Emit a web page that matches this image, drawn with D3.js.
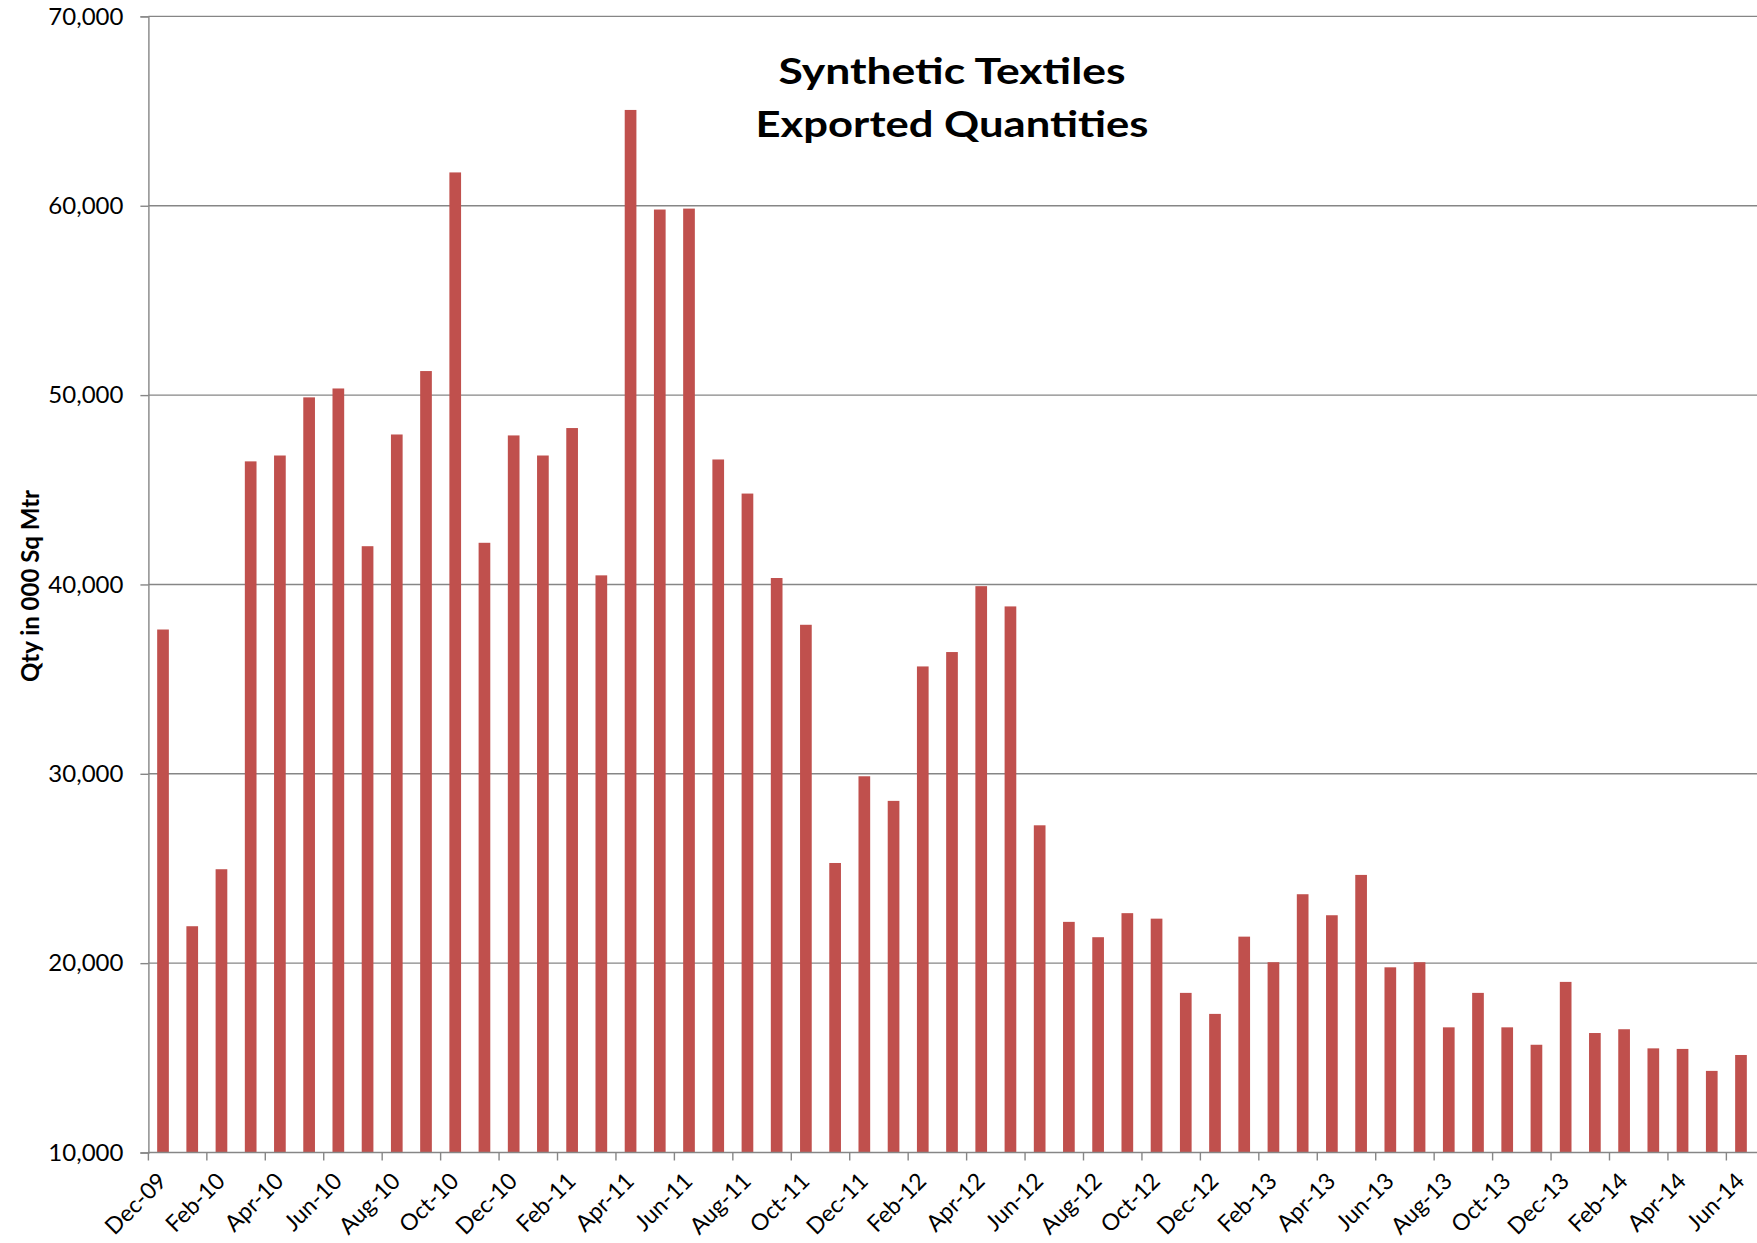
<!DOCTYPE html>
<html>
<head>
<meta charset="utf-8">
<script src="https://cdn.jsdelivr.net/npm/d3@7"></script>
<style>
  html, body { margin: 0; padding: 0; background: #fff; }
  svg { display: block; }
  text { font-family: Lato, "Open Sans", sans-serif; fill: #000; }
</style>
</head>
<body>
<svg id="chart" width="1757" height="1243"></svg>
<script>
const months = [
  "Dec-09",
  "Jan-10","Feb-10","Mar-10","Apr-10","May-10","Jun-10","Jul-10","Aug-10","Sep-10","Oct-10","Nov-10","Dec-10",
  "Jan-11","Feb-11","Mar-11","Apr-11","May-11","Jun-11","Jul-11","Aug-11","Sep-11","Oct-11","Nov-11","Dec-11",
  "Jan-12","Feb-12","Mar-12","Apr-12","May-12","Jun-12","Jul-12","Aug-12","Sep-12","Oct-12","Nov-12","Dec-12",
  "Jan-13","Feb-13","Mar-13","Apr-13","May-13","Jun-13","Jul-13","Aug-13","Sep-13","Oct-13","Nov-13","Dec-13",
  "Jan-14","Feb-14","Mar-14","Apr-14","May-14","Jun-14"
];
const quantities = [
  37620,
  21950,24960,46500,46810,49880,50350,42020,47920,51270,61760,42200,47870,
  46810,48260,40480,65060,59800,59850,46600,44800,40340,37870,25290,29870,
  28570,35670,36430,39910,38840,27280,22180,21370,22640,22350,18430,17320,
  21400,20050,23640,22530,24660,19780,20050,16610,18430,16610,15690,19010,
  16310,16510,15500,15470,14310,15150
];
const yTicks = [10000, 20000, 30000, 40000, 50000, 60000, 70000];
const titleLines = ["Synthetic Textiles", "Exported Quantities"];
const yAxisTitle = "Qty in 000 Sq Mtr";

(function () {
const svg = d3.select("#chart");
const pLeft = 148.4, pRight = 1755.6, pTop = 16.4, pBottom = 1152.5;
const gridColor = "#868686";
const barColor = "#C0504D";

const x = d3.scaleBand().domain(months).range([pLeft, pRight]).paddingInner(0.6).paddingOuter(0.3);
const y = d3.scaleLinear().domain([10000, 70000]).range([pBottom, pTop]);
const step = x.step();

// Gridlines
svg.append("g").selectAll("line").data(yTicks.filter(d => d > 10000)).join("line")
  .attr("x1", pLeft).attr("x2", 1757)
  .attr("y1", d => y(d)).attr("y2", d => y(d))
  .attr("stroke", gridColor).attr("stroke-width", 1.4);

// Bars
svg.append("g").selectAll("rect").data(months).join("rect")
  .attr("x", d => x(d))
  .attr("width", x.bandwidth())
  .attr("y", (d, i) => y(quantities[i]))
  .attr("height", (d, i) => pBottom - y(quantities[i]))
  .attr("fill", barColor);

// Y axis
const yAxis = d3.axisLeft(y).tickValues(yTicks).tickSize(8).tickPadding(17)
  .tickFormat(d3.format(","));
const gy = svg.append("g").attr("transform", `translate(${pLeft},0)`).call(yAxis);
gy.select(".domain").attr("stroke", gridColor).attr("stroke-width", 1.4);
gy.selectAll(".tick line").attr("stroke", gridColor).attr("stroke-width", 1.4);
gy.selectAll(".tick text").attr("font-size", "24px").attr("font-family", "Lato, sans-serif").attr("fill", "#000");

// X axis: ticks every two categories at boundaries
const tickIdx = d3.range(0, months.length, 2);
const gx = svg.append("g");
gx.append("line").attr("x1", pLeft).attr("x2", 1757).attr("y1", pBottom).attr("y2", pBottom)
  .attr("stroke", gridColor).attr("stroke-width", 1.4);
gx.selectAll("line.tk").data(tickIdx).join("line").attr("class", "tk")
  .attr("x1", i => x(months[i]) - step * 0.3).attr("x2", i => x(months[i]) - step * 0.3)
  .attr("y1", pBottom).attr("y2", pBottom + 8)
  .attr("stroke", gridColor).attr("stroke-width", 1.4);
gx.selectAll("text").data(tickIdx).join("text")
  .attr("transform", i => `translate(${x(months[i]) + x.bandwidth() / 2 + 5},${pBottom + 30}) rotate(-45)`)
  .attr("text-anchor", "end")
  .attr("font-size", "23px")
  .text(i => months[i]);

// Title
const titleWidths = [347, 393];
svg.append("g").selectAll("text").data(titleLines).join("text")
  .attr("x", 952).attr("y", (d, i) => 83.5 + i * 53.5)
  .attr("text-anchor", "middle")
  .attr("font-size", "37px").attr("font-weight", "bold")
  .attr("textLength", (d, i) => titleWidths[i])
  .attr("lengthAdjust", "spacingAndGlyphs")
  .text(d => d);

// Y axis title
svg.append("text")
  .attr("transform", "translate(39,586) rotate(-90)")
  .attr("text-anchor", "middle")
  .attr("font-size", "24px").attr("font-weight", "bold")
  .text(yAxisTitle);
})();
</script>
</body>
</html>
